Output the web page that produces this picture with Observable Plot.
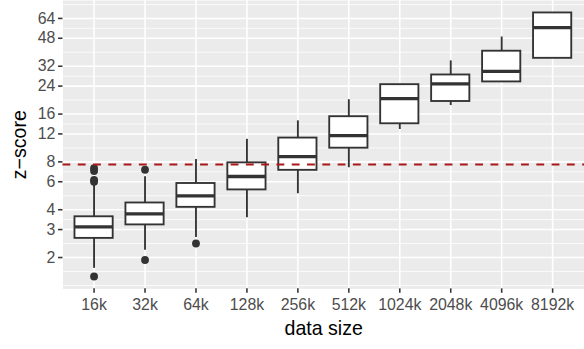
<!DOCTYPE html>
<html>
<head>
<meta charset="utf-8">
<script src="https://cdn.jsdelivr.net/npm/d3@7"></script>
<script src="https://cdn.jsdelivr.net/npm/@observablehq/plot@0.6"></script>
<style>
  html, body { margin: 0; padding: 0; background: white; }
  #wrap { width: 584px; height: 349px; overflow: hidden; }
</style>
</head>
<body>
<div id="wrap"></div>
<script>
// ---- data ----
const categories = ["16k","32k","64k","128k","256k","512k","1024k","2048k","4096k","8192k"];
const lowerWhisker = [1.71, 2.22, 2.67, 3.56, 5.04, 7.35, 12.8, 18.1, 25.4, 35.8];
const q1          = [2.64, 3.21, 4.14, 5.33, 7.08, 9.76, 13.9, 19.2, 25.5, 35.9];
const medianVals  = [3.12, 3.77, 4.89, 6.47, 8.64, 11.7, 20.0, 24.8, 29.7, 56.0];
const q3          = [3.61, 4.41, 5.85, 7.89, 11.3, 15.4, 24.5, 28.2, 39.8, 69.3];
const upperWhisker= [5.75, 6.44, 8.28, 11.1, 14.5, 19.7, 24.6, 34.6, 48.9, 69.3];
const outlierCat   = ["16k","16k","16k","16k","16k","32k","32k","64k"];
const outlierValue = [7.3, 7.0, 6.15, 6.0, 1.52, 7.14, 1.93, 2.45];
const yTicks = [2, 3, 4, 6, 8, 12, 16, 24, 32, 48, 64];
const threshold = 7.7;

// ---- tables built from the arrays ----
const boxes = categories.map((c, i) => ({
  cat: c, lower: lowerWhisker[i], q1: q1[i], median: medianVals[i], q3: q3[i], upper: upperWhisker[i]
}));
const outliers = outlierCat.map((c, i) => ({cat: c, value: outlierValue[i]}));
// minor grid: geometric midpoints between breaks, breaks extended one step at each end
const ext = [yTicks[0] * yTicks[0] / yTicks[1], ...yTicks, 96];
const minorY = [ext[0]];
for (let i = 0; i < ext.length - 1; i++) minorY.push(Math.sqrt(ext[i] * ext[i+1]));

const ink = "#333333";
const tickFont = 16.2;
const titleFont = 20;
const chart = Plot.plot({
  width: 596,
  height: 349,
  marginLeft: 63.75,
  marginRight: 0,
  marginTop: 0,
  marginBottom: 54.7,
  style: {fontFamily: "'Liberation Sans', Arial, Helvetica, sans-serif", background: "white"},
  x: {type: "band", domain: categories, paddingInner: 0.25, paddingOuter: 0.225, axis: null},
  y: {type: "log", domain: [1.27, 83], axis: null},
  marks: [
    Plot.frame({fill: "#EBEBEB", stroke: "none"}),
    Plot.ruleY(minorY, {stroke: "white", strokeWidth: 0.8}),
    Plot.ruleY(yTicks, {stroke: "white", strokeWidth: 1.6}),
    Plot.ruleX(categories, {x: d => d, stroke: "white", strokeWidth: 1.6}),
    Plot.ruleX(boxes, {x: "cat", y1: "lower", y2: "q1", stroke: ink, strokeWidth: 1.9}),
    Plot.ruleX(boxes, {x: "cat", y1: "q3", y2: "upper", stroke: ink, strokeWidth: 1.9}),
    Plot.barY(boxes, {x: "cat", y1: "q1", y2: "q3", fill: "white", stroke: ink, strokeWidth: 1.9}),
    Plot.tickY(boxes, {x: "cat", y: "median", stroke: ink, strokeWidth: 3.4}),
    Plot.dot(outliers, {x: "cat", y: "value", r: 4, fill: ink, stroke: "none"}),
    Plot.ruleY([threshold], {stroke: "#A8181B", strokeWidth: 1.9, strokeDasharray: "8,7.6"}),
    // axis tick marks
    Plot.axisX({tickSize: 4.5, tickFormat: () => "", stroke: ink, strokeWidth: 1.6, label: null}),
    Plot.axisY({ticks: yTicks, tickSize: 4.5, tickFormat: () => "", stroke: ink, strokeWidth: 1.6, label: null}),
    // tick labels
    Plot.text(categories, {x: d => d, text: d => d, frameAnchor: "bottom", dy: 10.3, lineAnchor: "top", fontSize: tickFont, fill: "#4D4D4D"}),
    Plot.text(yTicks, {y: d => d, text: d => String(d), frameAnchor: "left", dx: -7.8, textAnchor: "end", lineAnchor: "middle", fontSize: tickFont, fill: "#4D4D4D"}),
    // axis titles
    Plot.text(["data size"], {frameAnchor: "bottom", dy: 40.5, fontSize: titleFont, fill: "black", lineAnchor: "middle"}),
    Plot.text(["z\u2212score"], {frameAnchor: "left", dx: -44.5, rotate: -90, fontSize: titleFont, fill: "black", lineAnchor: "middle", textAnchor: "middle"})
  ]
});
document.getElementById("wrap").appendChild(chart);
</script>
</body>
</html>
